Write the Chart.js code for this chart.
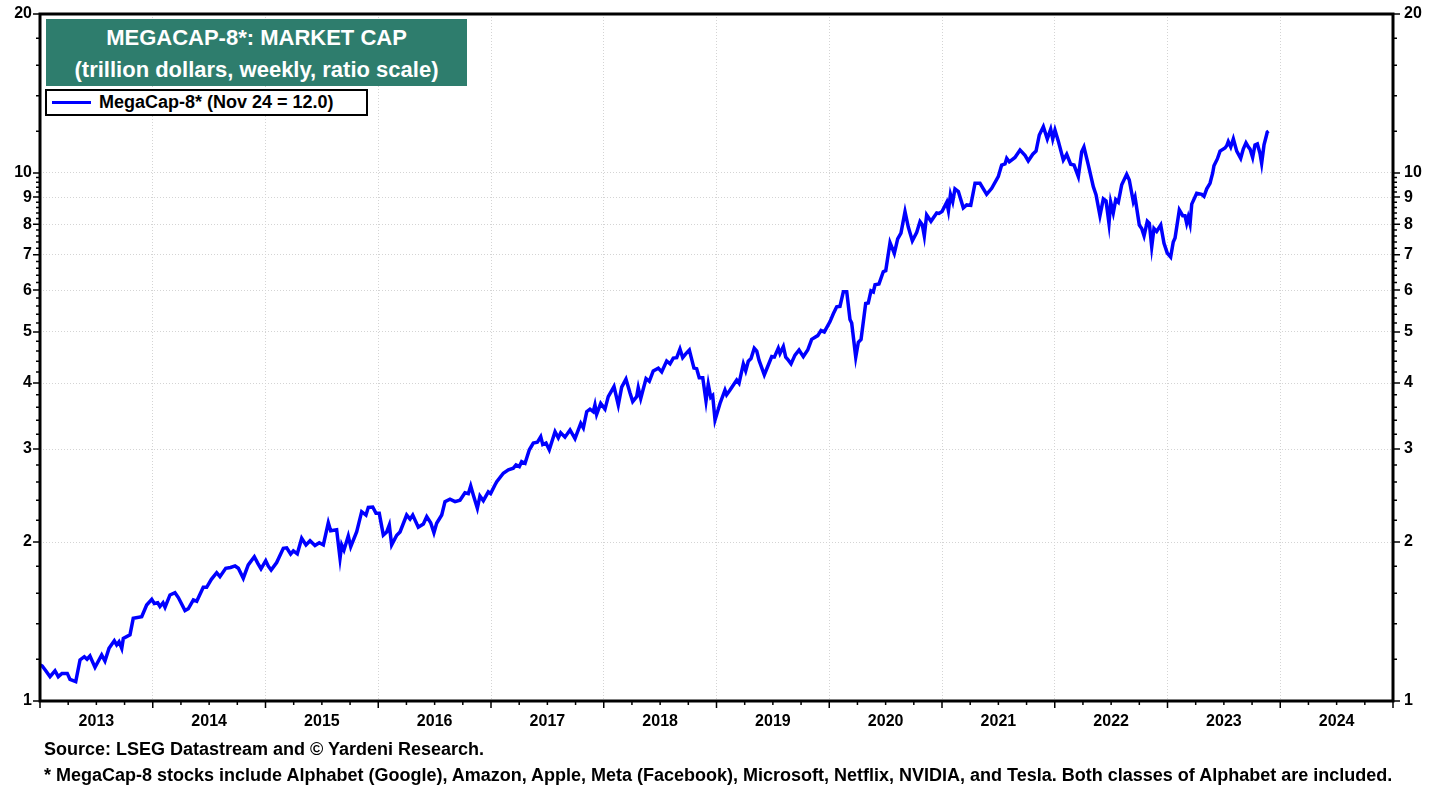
<!DOCTYPE html>
<html>
<head>
<meta charset="utf-8">
<script src="https://cdn.jsdelivr.net/npm/chart.js@4.4.0/dist/chart.umd.min.js"></script>
<style>
  body { margin: 0; background: #fff; font-family: Arial, "Liberation Sans", sans-serif; }
  #wrap { position: relative; width: 1446px; height: 788px; }
  #titleBox {
    position: absolute; left: 46px; top: 19px; width: 421px; height: 67px;
    background: #2e7d6d; color: #fff; font-weight: bold; font-size: 22px;
    text-align: center; line-height: 32px; padding-top: 3px; box-sizing: border-box;
  }
  #legendBox {
    position: absolute; left: 45px; top: 89px; width: 323px; height: 27px;
    background: #fff; border: 2px solid #000; box-sizing: border-box;
    display: flex; align-items: center; font-weight: bold; font-size: 18px;
  }
  #legendBox .swatch { width: 39px; height: 3px; background: #0000ff; margin: 0 8px 0 5px; }
  .foot { position: absolute; left: 44px; font-weight: bold; font-size: 18px; line-height: 20px; white-space: nowrap; }
</style>
</head>
<body>
<div id="wrap">
  <canvas id="chart" width="1446" height="788"></canvas>
  <div id="titleBox">MEGACAP-8*: MARKET CAP<br>(trillion dollars, weekly, ratio scale)</div>
  <div id="legendBox"><div class="swatch"></div><span>MegaCap-8* (Nov 24 = 12.0)</span></div>
  <div class="foot" style="top:739px">Source: LSEG Datastream and © Yardeni Research.</div>
  <div class="foot" style="top:765px">* MegaCap-8 stocks include Alphabet (Google), Amazon, Apple, Meta (Facebook), Microsoft, Netflix, NVIDIA, and Tesla. Both classes of Alphabet are included.</div>
</div>
<script>
// dates as decimal years, values in trillion dollars
const weeks = [
  2013.005, 2013.020, 2013.053, 2013.089, 2013.133, 2013.162, 2013.195, 2013.242, 2013.266, 2013.317, 2013.355, 2013.393, 2013.417, 2013.443, 2013.488, 2013.547, 2013.576, 2013.612, 2013.659, 2013.680, 2013.701, 2013.725, 2013.739, 2013.798, 2013.827, 2013.902, 2013.946, 2013.991,
  2014.014, 2014.044, 2014.064, 2014.091, 2014.109, 2014.153, 2014.197, 2014.227, 2014.286, 2014.315, 2014.360, 2014.390, 2014.448, 2014.478, 2014.520, 2014.567, 2014.596, 2014.647, 2014.690, 2014.730, 2014.759, 2014.803, 2014.847, 2014.901, 2014.933, 2014.960,
  2015.002, 2015.025, 2015.050, 2015.099, 2015.158, 2015.188, 2015.223, 2015.247, 2015.282, 2015.321, 2015.359, 2015.395, 2015.439, 2015.477, 2015.513, 2015.557, 2015.578, 2015.631, 2015.661, 2015.676, 2015.696, 2015.734, 2015.756, 2015.809, 2015.853, 2015.891, 2015.912, 2015.951, 2015.980,
  2016.009, 2016.045, 2016.075, 2016.098, 2016.119, 2016.164, 2016.193, 2016.252, 2016.282, 2016.306, 2016.355, 2016.400, 2016.430, 2016.465, 2016.494, 2016.518, 2016.563, 2016.592, 2016.636, 2016.681, 2016.725, 2016.769, 2016.799, 2016.820, 2016.843, 2016.879, 2016.902, 2016.932, 2016.976, 2016.997,
  2017.035, 2017.051, 2017.109, 2017.154, 2017.198, 2017.222, 2017.251, 2017.272, 2017.302, 2017.340, 2017.375, 2017.411, 2017.441, 2017.459, 2017.488, 2017.517, 2017.568, 2017.597, 2017.618, 2017.656, 2017.701, 2017.745, 2017.796, 2017.819, 2017.849, 2017.878, 2017.907, 2017.922, 2017.937, 2017.973,
  2018.011, 2018.040, 2018.091, 2018.129, 2018.159, 2018.197, 2018.233, 2018.257, 2018.292, 2018.306, 2018.328, 2018.375, 2018.404, 2018.439, 2018.484, 2018.514, 2018.558, 2018.588, 2018.617, 2018.647, 2018.676, 2018.700, 2018.729, 2018.759, 2018.800, 2018.824, 2018.847, 2018.878, 2018.907, 2018.927, 2018.949, 2018.966, 2018.987,
  2019.031, 2019.075, 2019.090, 2019.120, 2019.179, 2019.200, 2019.238, 2019.259, 2019.282, 2019.306, 2019.335, 2019.357, 2019.377, 2019.424, 2019.454, 2019.490, 2019.513, 2019.548, 2019.563, 2019.593, 2019.614, 2019.637, 2019.661, 2019.696, 2019.732, 2019.770, 2019.809, 2019.844, 2019.898, 2019.927, 2019.956,
  2020.007, 2020.036, 2020.066, 2020.095, 2020.125, 2020.155, 2020.184, 2020.199, 2020.235, 2020.258, 2020.282, 2020.323, 2020.346, 2020.370, 2020.391, 2020.406, 2020.441, 2020.479, 2020.501, 2020.539, 2020.577, 2020.607, 2020.636, 2020.672, 2020.701, 2020.737, 2020.776, 2020.805, 2020.825, 2020.843, 2020.864, 2020.902, 2020.953, 2020.973,
  2021.000, 2021.042, 2021.057, 2021.075, 2021.095, 2021.115, 2021.145, 2021.189, 2021.219, 2021.255, 2021.293, 2021.337, 2021.396, 2021.441, 2021.499, 2021.529, 2021.559, 2021.574, 2021.597, 2021.647, 2021.692, 2021.736, 2021.765, 2021.805, 2021.834, 2021.863, 2021.899, 2021.934, 2021.964, 2021.982,
  2022.002, 2022.031, 2022.076, 2022.106, 2022.141, 2022.171, 2022.209, 2022.239, 2022.259, 2022.298, 2022.342, 2022.366, 2022.401, 2022.431, 2022.455, 2022.481, 2022.496, 2022.519, 2022.541, 2022.564, 2022.594, 2022.638, 2022.661, 2022.697, 2022.712, 2022.750, 2022.771, 2022.792, 2022.821, 2022.839, 2022.860, 2022.880, 2022.904, 2022.940, 2022.969, 2022.998,
  2023.028, 2023.051, 2023.067, 2023.105, 2023.135, 2023.155, 2023.170, 2023.184, 2023.200, 2023.215, 2023.259, 2023.303, 2023.324, 2023.348, 2023.377, 2023.401, 2023.412, 2023.442, 2023.466, 2023.510, 2023.525, 2023.539, 2023.561, 2023.584, 2023.614, 2023.649, 2023.672, 2023.696, 2023.717, 2023.732, 2023.755, 2023.776, 2023.797, 2023.820, 2023.835, 2023.856, 2023.874, 2023.885, 2023.896
];
const capTrillions = [
  1.17, 1.165, 1.14, 1.112, 1.141, 1.112, 1.128, 1.128, 1.099, 1.088, 1.196, 1.213, 1.20, 1.217, 1.158, 1.222, 1.19, 1.258, 1.30, 1.277, 1.295, 1.258, 1.314, 1.334, 1.434, 1.444, 1.52, 1.558,
  1.53, 1.535, 1.51, 1.535, 1.505, 1.588, 1.604, 1.57, 1.483, 1.495, 1.554, 1.545, 1.642, 1.642, 1.70, 1.75, 1.72, 1.784, 1.79, 1.802, 1.784, 1.708, 1.81, 1.876, 1.82, 1.78,
  1.844, 1.80, 1.77, 1.829, 1.946, 1.95, 1.898, 1.925, 1.90, 2.033, 1.975, 2.012, 1.97, 1.994, 1.975, 2.176, 2.101, 2.11, 1.864, 1.975, 1.932, 2.053, 1.96, 2.092, 2.283, 2.25, 2.327, 2.33, 2.267,
  2.267, 2.062, 2.09, 2.154, 1.975, 2.06, 2.09, 2.25, 2.21, 2.25, 2.133, 2.164, 2.235, 2.176, 2.083, 2.17, 2.25, 2.385, 2.41, 2.385, 2.40, 2.48, 2.47, 2.555, 2.455, 2.317, 2.445, 2.395, 2.49, 2.47,
  2.565, 2.602, 2.70, 2.74, 2.76, 2.80, 2.78, 2.84, 2.82, 2.99, 3.08, 3.09, 3.167, 3.06, 3.08, 2.99, 3.236, 3.15, 3.22, 3.16, 3.26, 3.14, 3.357, 3.29, 3.53, 3.57, 3.53, 3.636, 3.49, 3.66,
  3.57, 3.77, 3.94, 3.636, 3.93, 4.07, 3.83, 3.69, 3.77, 3.92, 3.74, 4.08, 4.03, 4.217, 4.27, 4.20, 4.405, 4.35, 4.46, 4.47, 4.64, 4.47, 4.55, 4.62, 4.27, 4.26, 4.096, 4.096, 3.70, 3.98, 3.76, 3.79, 3.405,
  3.66, 3.88, 3.80, 3.88, 4.055, 4.0, 4.35, 4.22, 4.40, 4.45, 4.656, 4.60, 4.42, 4.145, 4.30, 4.49, 4.48, 4.656, 4.55, 4.69, 4.48, 4.42, 4.35, 4.52, 4.62, 4.49, 4.62, 4.84, 4.92, 5.03, 5.0,
  5.23, 5.41, 5.58, 5.59, 5.96, 5.96, 5.28, 5.20, 4.48, 4.78, 4.84, 5.66, 5.67, 5.98, 5.95, 6.14, 6.16, 6.50, 6.53, 7.38, 7.04, 7.5, 7.69, 8.45, 7.9, 7.44, 7.72, 8.09, 7.98, 7.6, 8.33, 8.1, 8.4, 8.38,
  8.45, 8.80, 8.48, 9.11, 8.82, 9.33, 9.22, 8.59, 8.70, 8.68, 9.56, 9.56, 9.11, 9.35, 9.84, 10.35, 10.4, 10.66, 10.5, 10.7, 11.05, 10.8, 10.54, 10.85, 11.0, 11.8, 12.24, 11.6, 12.1, 11.6,
  12.06, 11.5, 10.58, 10.85, 10.39, 10.35, 9.84, 10.97, 11.2, 10.35, 9.42, 9.1, 8.30, 8.93, 8.85, 8.03, 8.8, 8.4, 8.9, 8.8, 9.5, 9.94, 9.7, 8.82, 9.0, 7.97, 7.85, 7.6, 8.10, 8.03, 7.25, 7.85, 7.75, 7.97, 7.36, 7.05,
  6.93, 7.4, 7.53, 8.51, 8.3, 8.3, 8.03, 8.25, 8.0, 8.73, 9.15, 9.11, 9.03, 9.33, 9.56, 10.0, 10.32, 10.63, 11.0, 11.15, 11.26, 11.47, 11.2, 11.6, 11.0, 10.66, 11.1, 11.4, 11.2, 11.1, 10.7, 11.3, 11.35, 10.9, 10.43, 11.3, 11.7, 11.95, 12.0
];
const yLabels = [1, 2, 3, 4, 5, 6, 7, 8, 9, 10, 20];
const yearStart = 2013, yearEnd = 2025;

const quarters = [];
for (let q = yearStart; q <= yearEnd + 1e-9; q += 0.25) quarters.push(q);
const yMinor = [];
for (let i = 0; i <= 45; i++) yMinor.push(1 + i * 0.2);
[12, 14, 16, 18, 20].forEach(v => yMinor.push(v));

const isWhole = v => Math.abs(v - Math.round(v)) < 1e-9;
const font = { family: 'Arial, "Liberation Sans", sans-serif', size: 16, weight: 'bold' };

const axisMarks = {
  id: 'axisMarks',
  afterDraw(chart) {
    const { ctx, chartArea: a, scales } = chart;
    ctx.save();
    ctx.strokeStyle = '#000';
    ctx.lineWidth = 1.5;
    ctx.beginPath();
    quarters.forEach(q => {
      const x = scales.x.getPixelForValue(q);
      const len = isWhole(q) ? 7 : 4;
      ctx.moveTo(x, a.bottom);
      ctx.lineTo(x, a.bottom + len);
    });
    yMinor.forEach(v => {
      const y = scales.y.getPixelForValue(v);
      const len = yLabels.some(l => Math.abs(l - v) < 1e-9) ? 7 : 4;
      ctx.moveTo(a.left, y);
      ctx.lineTo(a.left - len, y);
      ctx.moveTo(a.right, y);
      ctx.lineTo(a.right + len, y);
    });
    ctx.stroke();
    ctx.lineWidth = 3;
    ctx.strokeRect(a.left, a.top, a.right - a.left, a.bottom - a.top);
    ctx.restore();
  }
};

const logAxis = (position, width, padding) => ({
  type: 'logarithmic',
  position,
  min: 1,
  max: 20,
  afterBuildTicks: s => { s.ticks = yLabels.map(v => ({ value: v })); },
  afterFit: s => { s.width = width; s.paddingTop = 0; s.paddingBottom = 0; },
  ticks: { color: '#000', font, padding, callback: v => String(v) },
  grid: {
    display: position === 'left',
    drawTicks: false,
    color: c => (c.tick && c.tick.value > 1 && c.tick.value < 20) ? '#d4d4d4' : 'rgba(0,0,0,0)'
  },
  border: { display: false, dash: [1, 2] }
});

new Chart(document.getElementById('chart'), {
  type: 'line',
  data: {
    datasets: [{
      label: 'MegaCap-8* (Nov 24 = 12.0)',
      data: weeks.map((t, i) => ({ x: t, y: capTrillions[i] })),
      borderColor: '#0000ff',
      borderWidth: 3.5,
      pointRadius: 0,
      tension: 0,
      yAxisID: 'y'
    }]
  },
  options: {
    responsive: false,
    animation: false,
    layout: { padding: { top: 14 } },
    plugins: { legend: { display: false }, tooltip: { enabled: false } },
    scales: {
      x: {
        type: 'linear',
        min: yearStart,
        max: yearEnd,
        afterBuildTicks: s => { s.ticks = quarters.map(v => ({ value: v })); },
        afterFit: s => { s.height = 87; s.paddingLeft = 0; s.paddingRight = 0; },
        ticks: {
          autoSkip: false, maxRotation: 0, padding: 11, color: '#000', font,
          callback: v => (Math.abs((v % 1) - 0.5) < 1e-9 ? String(Math.floor(v)) : '')
        },
        grid: {
          drawTicks: false,
          color: c => (c.tick && isWhole(c.tick.value)) ? '#d4d4d4' : 'rgba(0,0,0,0)'
        },
        border: { display: false, dash: [1, 2] }
      },
      y: logAxis('left', 40, 8),
      yRight: logAxis('right', 53, 11)
    }
  },
  plugins: [axisMarks]
});
</script>
</body>
</html>
